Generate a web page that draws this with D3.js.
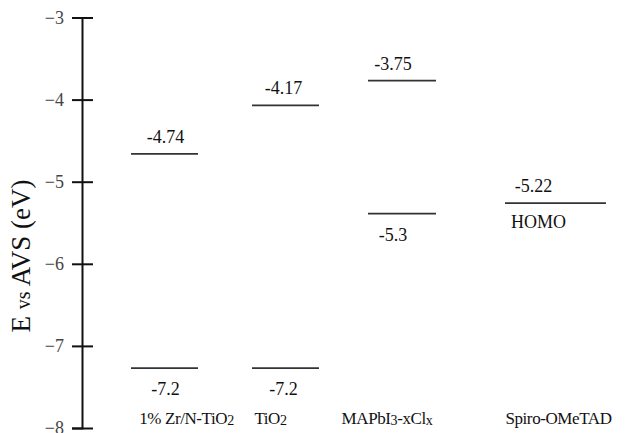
<!DOCTYPE html>
<html>
<head>
<meta charset="utf-8">
<script src="https://cdn.jsdelivr.net/npm/d3@7"></script>
<style>
  body { margin: 0; background: #fff; }
</style>
</head>
<body>
<div id="chart"></div>
<script>
// categories, each split in plain / subscript parts
var categories = ["1% Zr/N-TiO2", "TiO2", "MAPbI3-xClx", "Spiro-OMeTAD"]
var categoryParts = [
    [["1% Zr/N-TiO", false], ["2", true]],
    [["TiO", false], ["2", true]],
    [["MAPbI", false], ["3", true], ["-xCl", false], ["x", true]],
    [["Spiro-OMeTAD", false]]
]

// energy levels as drawn (eV) and the text written next to them
var levelCategory = ["1% Zr/N-TiO2", "1% Zr/N-TiO2", "TiO2", "TiO2", "MAPbI3-xClx", "MAPbI3-xClx", "Spiro-OMeTAD"]
var levelEnergy = [-4.66, -7.27, -4.07, -7.27, -3.77, -5.39, -5.26]
var levelLabel = ["-4.74", "-7.2", "-4.17", "-7.2", "-3.75", "-5.3", "-5.22"]
var levelSide = ["above", "below", "above", "below", "above", "below", "above"]
var homoLabel = "HOMO"

var yTicks = [-3, -4, -5, -6, -7, -8]

var serif = "Liberation Serif"
var width = 643, height = 433

var svg = d3.select("#chart").append("svg")
            .attr("width", width)
            .attr("height", height)

var y = d3.scaleLinear().domain([-3, -8]).range([17.5, 428])
var xCenter = d3.scaleOrdinal().domain(categories).range([164.5, 285.5, 402, 555.5])
var xHalf = d3.scaleOrdinal().domain(categories).range([33.5, 33.5, 34, 50.5])
var labelShift = d3.scaleOrdinal().domain(categories).range([1, -2, -9, -22])
var nameShift = d3.scaleOrdinal().domain(categories).range([22, -15, -15, 3])

// axis with ticks crossing the line
var axis = svg.append("g")
              .attr("transform", "translate(82,0)")
              .call(d3.axisLeft(y).tickValues(yTicks).tickSizeOuter(0).tickSize(10).tickPadding(8)
                      .tickFormat(function(d) { return "\u2212" + Math.abs(d); }))
axis.attr("font-family", serif)
axis.select(".domain").attr("stroke", "#111").attr("stroke-width", 2)
axis.selectAll(".tick line").attr("x1", 11).attr("x2", -10).attr("stroke", "#111").attr("stroke-width", 2)
axis.selectAll(".tick text")
    .attr("font-size", 18)
    .attr("fill", "#444")

var title = svg.append("text")
   .attr("transform", "translate(30,256) rotate(-90)")
   .attr("text-anchor", "middle")
   .attr("font-family", serif)
   .attr("font-size", 27)
   .attr("fill", "#111")
title.append("tspan").text("E ")
title.append("tspan").attr("font-size", 20).text("vs")
title.append("tspan").text(" AVS (eV)")

var levels = levelEnergy.map(function(v, i) {
    return { cat: levelCategory[i], value: v, label: levelLabel[i], side: levelSide[i] }
})

svg.selectAll(".level")
   .data(levels)
   .join("line")
   .attr("class", "level")
   .attr("x1", function(d) { return xCenter(d.cat) - xHalf(d.cat); })
   .attr("x2", function(d) { return xCenter(d.cat) + xHalf(d.cat); })
   .attr("y1", function(d) { return y(d.value); })
   .attr("y2", function(d) { return y(d.value); })
   .attr("stroke", "#333")
   .attr("stroke-width", 1.8)

svg.selectAll(".levelLabel")
   .data(levels)
   .join("text")
   .attr("class", "levelLabel")
   .attr("x", function(d) { return xCenter(d.cat) + labelShift(d.cat); })
   .attr("y", function(d) { return y(d.value) + (d.side == "above" ? -11 : 27); })
   .attr("text-anchor", "middle")
   .attr("font-family", serif)
   .attr("font-size", 18)
   .attr("fill", "#111")
   .text(function(d) { return d.label; })

var spiro = levels[levels.length - 1]
svg.append("text")
   .attr("x", xCenter(spiro.cat) - 17)
   .attr("y", y(spiro.value) + 25)
   .attr("text-anchor", "middle")
   .attr("font-family", serif)
   .attr("font-size", 18)
   .attr("fill", "#111")
   .text(homoLabel)

// category names along the bottom
var catLabels = svg.selectAll(".catLabel")
                   .data(categories)
                   .join("text")
                   .attr("class", "catLabel")
                   .attr("x", function(d) { return xCenter(d) + nameShift(d); })
                   .attr("y", 424)
                   .attr("text-anchor", "middle")
                   .attr("font-family", serif)
                   .attr("font-size", 17)
                   .attr("letter-spacing", -0.4)
                   .attr("fill", "#111")

catLabels.each(function(d, i) {
    var t = d3.select(this)
    categoryParts[i].forEach(function(p, j) {
        var prevSub = j > 0 && categoryParts[i][j - 1][1]
        t.append("tspan")
         .attr("font-size", p[1] ? 14 : 17)
         .attr("dy", p[1] ? 1 : (prevSub ? -1 : 0))
         .text(p[0])
    })
})
</script>
</body>
</html>
